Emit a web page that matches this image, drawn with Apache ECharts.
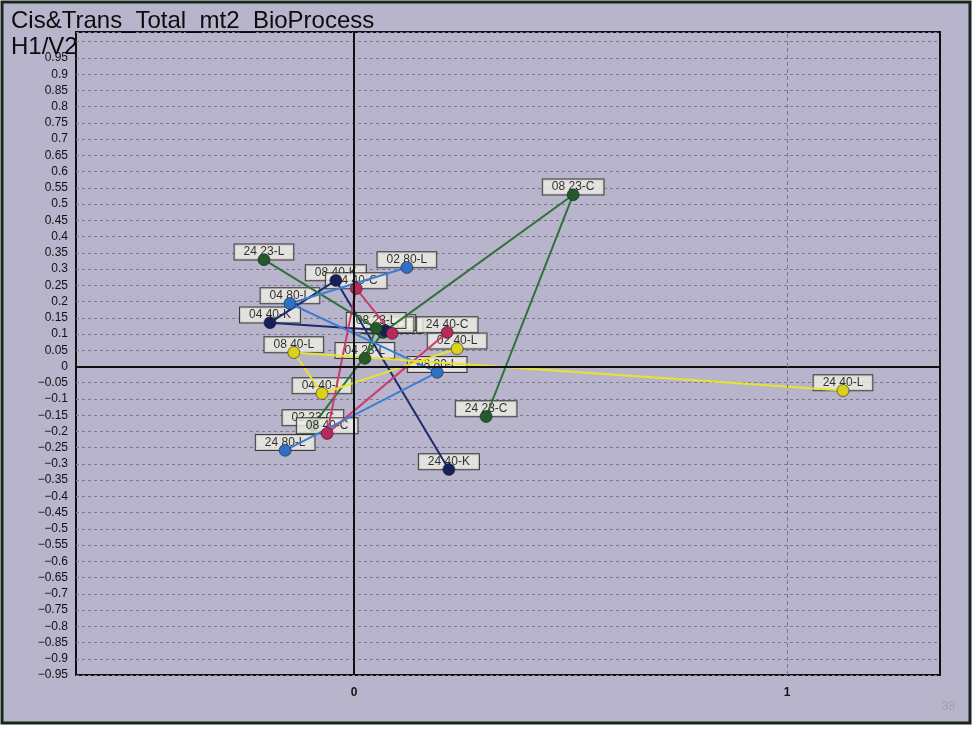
<!DOCTYPE html>
<html>
<head>
<meta charset="utf-8">
<script src="https://cdn.jsdelivr.net/npm/echarts@6/dist/echarts.min.js"></script>
<style>
  html, body { margin: 0; padding: 0; background: #ffffff; }
  #chart { width: 975px; height: 730px; }
</style>
</head>
<body>
<div id="chart"></div>
<script>
// Factor-map coordinates (H1 = horizontal, V2 = vertical) for each time course.
// Time course "23-C"
const names23C = ['02 23-C', '04 23-C', '08 23-C', '24 23-C'];
const h23C = [-0.095, 0.067, 0.506, 0.305];
const v23C = [-0.182, 0.105, 0.529, -0.154];

// Time course "23-L"
const names23L = ['04 23-L', '08 23-L', '24 23-L'];
const h23L = [0.025, 0.051, -0.208];
const v23L = [0.025, 0.118, 0.329];

// Time course "40-L"
const names40L = ['02 40-L', '04 40-L', '08 40-L', '24 40-L'];
const h40L = [0.238, -0.074, -0.139, 1.129];
const v40L = [0.055, -0.083, 0.043, -0.074];

// Time course "40-K"
const names40K = ['02 40-K', '04 40-K', '08 40-K', '24 40-K'];
const h40K = [0.072, -0.194, -0.042, 0.219];
const v40K = [0.111, 0.135, 0.265, -0.317];

// Time course "40-C"
const names40C = ['02 40-C', '04 40-C', '08 40-C', '24 40-C'];
const h40C = [0.088, 0.005, -0.062, 0.215];
const v40C = [0.102, 0.240, -0.206, 0.105];

// Time course "80-L"
const names80L = ['02 80-L', '04 80-L', '08 80-L', '24 80-L'];
const h80L = [0.122, -0.148, 0.192, -0.159];
const v80L = [0.305, 0.194, -0.018, -0.258];

// Axis ranges and labelled x positions
const xRange = [-0.642, 1.353];
const yRange = [-0.95, 1.03];
const xTickLabels = [0, 1];

// Stacking order of the point tags on the lower tag layer (last one on top)
const tagOrder = [
  '24 40-L', '24 23-C', '08 23-C', '24 40-K', '24 80-L', '02 23-C',
  '04 40-L', '08 40-L', '08 80-L', '02 40-L', '02 40-C', '02 40-K',
  '04 23-C', '08 23-L', '04 23-L', '04 40-K', '04 80-L', '24 23-L', '08 40-K',
  '02 80-L'
];
// These tags sit on a higher layer, above the "23-C" course
const tagOrderUpper = ['24 40-C', '08 40-C', '04 40-C'];

const courses = [
  { names: names23C, h: h23C, v: v23C, line: '#2f7136', dot: '#24592a', z: 2 },
  { names: names40K, h: h40K, v: v40K, line: '#1d2a6e', dot: '#16205a', z: 4 },
  { names: names40C, h: h40C, v: v40C, line: '#cc3b6c', dot: '#b8285a', z: 4 },
  { names: names23L, h: h23L, v: v23L, line: '#2f7136', dot: '#24592a', z: 4 },
  { names: names80L, h: h80L, v: v80L, line: '#3b7fd4', dot: '#2f6fc4', z: 4 },
  { names: names40L, h: h40L, v: v40L, line: '#e8e42c', dot: '#d9d21c', z: 4 }
];

const pointByName = {};
courses.forEach(c => c.names.forEach((n, i) => { pointByName[n] = [c.h[i], c.v[i]]; }));

const tagLabel = {
  show: true,
  position: 'top',
  distance: 0,
  formatter: '{b}',
  fontFamily: 'Liberation Sans, Arial, sans-serif',
  fontSize: 12,
  lineHeight: 13,
  color: '#000000',
  backgroundColor: '#efede3',
  borderColor: '#1a1a1a',
  borderWidth: 1,
  padding: [1, 9, 1, 9]
};

function tagSeries(order, z) {
  return {
    type: 'scatter',
    z: z,
    silent: true,
    symbolSize: 0.5,
    itemStyle: { color: 'rgba(0,0,0,0)' },
    data: order.map(n => ({ name: n, value: pointByName[n] })),
    label: tagLabel,
    animation: false
  };
}

const series = [];

// Zero axes and the dashed x = 1 reference line, kept underneath the tags
series.push({
  type: 'scatter',
  z: 0,
  silent: true,
  symbolSize: 0,
  data: [[0, 0]],
  markLine: {
    silent: true,
    symbol: 'none',
    animation: false,
    label: { show: false },
    data: [
      { xAxis: 0, lineStyle: { color: '#101010', width: 2, type: 'solid' } },
      { yAxis: 0, lineStyle: { color: '#101010', width: 2, type: 'solid' } },
      { xAxis: 1, lineStyle: { color: '#7a768e', width: 1, type: [4, 3] } }
    ]
  }
});

series.push(tagSeries(tagOrder, 1));
series.push(tagSeries(tagOrderUpper, 3));

// Trajectories with their markers
courses.forEach(c => {
  series.push({
    type: 'line',
    z: c.z,
    silent: true,
    data: c.names.map((n, i) => [c.h[i], c.v[i]]),
    symbol: 'circle',
    symbolSize: 12,
    showAllSymbol: true,
    lineStyle: { color: c.line, width: 2 },
    itemStyle: { color: c.dot, borderColor: 'rgba(20,20,30,0.55)', borderWidth: 1 },
    label: { show: false },
    animation: false
  });
});

const chart = echarts.init(document.getElementById('chart'), null, { renderer: 'canvas' });
chart.setOption({
  backgroundColor: '#ffffff',
  animation: false,
  graphic: [
    {
      type: 'rect',
      z: -10,
      silent: true,
      shape: { x: 2, y: 2, width: 968, height: 721 },
      style: { fill: '#b8b4cc', stroke: '#18241b', lineWidth: 3 }
    },
    {
      type: 'text',
      z: 10,
      silent: true,
      left: 11,
      top: 9,
      style: {
        text: 'Cis&Trans_Total_mt2_BioProcess',
        font: '24px "Liberation Sans", Arial, sans-serif',
        fill: '#0c0c0c'
      }
    },
    {
      type: 'text',
      z: 10,
      silent: true,
      left: 11,
      top: 35,
      style: {
        text: 'H1/V2',
        font: '24px "Liberation Sans", Arial, sans-serif',
        fill: '#0c0c0c'
      }
    },
    {
      type: 'text',
      silent: true,
      left: 942,
      top: 701,
      style: {
        text: '38',
        font: '12px "Liberation Sans", Arial, sans-serif',
        fill: '#a09eae'
      }
    }
  ],
  grid: {
    left: 76,
    right: 35,
    top: 32,
    bottom: 55,
    show: true,
    backgroundColor: '#b8b4cc',
    borderColor: '#101010',
    borderWidth: 2
  },
  xAxis: {
    type: 'value',
    min: xRange[0],
    max: xRange[1],
    axisLine: { show: false },
    axisTick: { show: false },
    splitLine: { show: false },
    axisLabel: {
      customValues: xTickLabels,
      margin: 12,
      fontFamily: 'Liberation Sans, Arial, sans-serif',
      fontSize: 12,
      fontWeight: 'bold',
      color: '#151515'
    }
  },
  yAxis: {
    type: 'value',
    min: yRange[0],
    max: yRange[1],
    interval: 0.05,
    axisLine: { show: false },
    axisTick: { show: false },
    splitLine: {
      show: true,
      lineStyle: { color: '#7c7890', width: 1, type: [3, 3] }
    },
    axisLabel: {
      margin: 8,
      fontFamily: 'Liberation Sans, Arial, sans-serif',
      fontSize: 12,
      color: '#111111',
      showMaxLabel: false,
      formatter: v => {
        if (v > 0.96) return '';
        const t = String(Math.round(v * 100) / 100);
        return t.replace('-', '\u2212');
      }
    }
  },
  series: series
});
</script>
</body>
</html>
